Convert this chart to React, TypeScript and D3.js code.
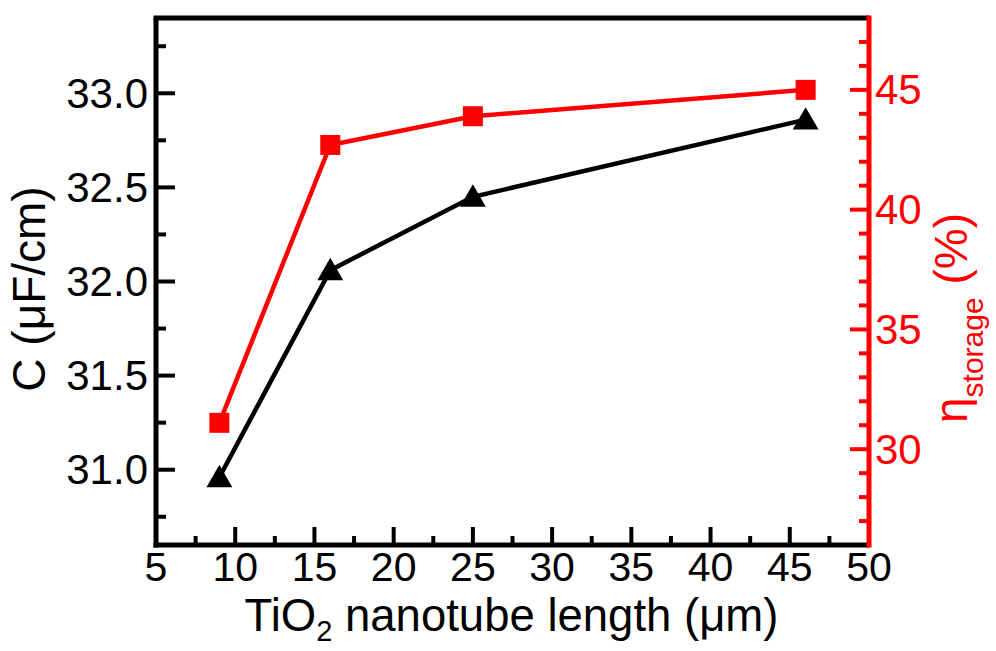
import React from "react";
import * as d3 from "d3";

const lengths = [9, 16, 25, 46];
const capacitance = [30.96, 32.06, 32.45, 32.86];
const efficiency = [31.1, 42.7, 43.9, 45.0];
const xTicksMajor = [5, 10, 15, 20, 25, 30, 35, 40, 45, 50];
const yLeftMajor = [31.0, 31.5, 32.0, 32.5, 33.0];
const yRightMajor = [30, 35, 40, 45];

const W = 996, H = 651;
const L = 156, R = 869, T = 18, B = 545;
const FONT = "'Liberation Sans', Arial, sans-serif";
const RED = "#ff0000";

export default function App() {
  const x = d3.scaleLinear().domain([5, 50]).range([L, R]);
  const yL = d3.scaleLinear().domain([30.6, 33.4]).range([B, T]);
  const yR = d3.scaleLinear().domain([26, 48]).range([B, T]);

  const xMinor = d3.range(7.5, 50, 5);
  const yLMinor = d3.range(30.75, 33.4, 0.5);
  const yRMinor = d3.range(27, 48, 1).filter((v) => v % 5 !== 0);

  const lineC = d3.line<number>().x((_, i) => x(lengths[i])).y((d) => yL(d));
  const lineE = d3.line<number>().x((_, i) => x(lengths[i])).y((d) => yR(d));
  const tri = d3.symbol().type(d3.symbolTriangle).size(290)();

  return (
    <div style={{ position: "absolute", left: 0, top: 0 }}>
      <svg width={W} height={H} style={{ display: "block", background: "#fff" }}>
        <rect width={W} height={H} fill="#fff" />
        {/* data lines */}
        <path d={lineE(efficiency) || ""} fill="none" stroke={RED} strokeWidth={4.5} />
        <path d={lineC(capacitance) || ""} fill="none" stroke="#000" strokeWidth={4.5} />
        {efficiency.map((v, i) => (
          <rect key={"s" + i} x={x(lengths[i]) - 10} y={yR(v) - 10} width={20} height={20} fill={RED} />
        ))}
        {capacitance.map((v, i) => (
          <path key={"t" + i} d={tri || ""} transform={`translate(${x(lengths[i])},${yL(v) + 2.5})`} fill="#000" />
        ))}

        {/* x ticks */}
        {xTicksMajor.map((t) => (
          <g key={"xt" + t}>
            <line x1={x(t)} x2={x(t)} y1={B} y2={B - 18} stroke="#000" strokeWidth={4} />
            <text x={x(t)} y={581} textAnchor="middle" fontFamily={FONT} fontSize={41} fill="#000">{t}</text>
          </g>
        ))}
        {xMinor.map((t) => (
          <line key={"xm" + t} x1={x(t)} x2={x(t)} y1={B} y2={B - 9} stroke="#000" strokeWidth={4} />
        ))}
        {/* left ticks */}
        {yLeftMajor.map((t) => (
          <g key={"yl" + t}>
            <line x1={L} x2={L + 19} y1={yL(t)} y2={yL(t)} stroke="#000" strokeWidth={4} />
            <text x={148} y={yL(t) + 14.5} textAnchor="end" fontFamily={FONT} fontSize={42} fill="#000">{t.toFixed(1)}</text>
          </g>
        ))}
        {yLMinor.map((t) => (
          <line key={"ylm" + t} x1={L} x2={L + 10} y1={yL(t)} y2={yL(t)} stroke="#000" strokeWidth={4} />
        ))}
        {/* right ticks */}
        {yRightMajor.map((t) => (
          <g key={"yr" + t}>
            <line x1={R} x2={R - 19} y1={yR(t)} y2={yR(t)} stroke={RED} strokeWidth={4} />
            <text x={875} y={yR(t) + 14.5} textAnchor="start" fontFamily={FONT} fontSize={42} fill={RED}>{t}</text>
          </g>
        ))}
        {yRMinor.map((t) => (
          <line key={"yrm" + t} x1={R} x2={R - 10} y1={yR(t)} y2={yR(t)} stroke={RED} strokeWidth={4} />
        ))}

        {/* frame */}
        <line x1={L - 2.5} x2={R} y1={T} y2={T} stroke="#000" strokeWidth={5} />
        <line x1={L - 2.5} x2={R} y1={B} y2={B} stroke="#000" strokeWidth={5} />
        <line x1={L} x2={L} y1={T} y2={B + 2.5} stroke="#000" strokeWidth={5} />
        <line x1={R} x2={R} y1={T - 2.5} y2={B + 2.5} stroke={RED} strokeWidth={5} />

        {/* axis titles */}
        <text x={(L + R) / 2 - 1} y={631} textAnchor="middle" fontFamily={FONT} fontSize={45.5} fill="#000">
          TiO<tspan dy={10} fontSize={29}>2</tspan><tspan dy={-10}> nanotube length (μm)</tspan>
        </text>
        <text transform={`translate(45,289) rotate(-90)`} textAnchor="middle" fontFamily={FONT} fontSize={46} fill="#000">
          C (μF/cm)
        </text>
        <text transform={`translate(967,318) rotate(-90)`} textAnchor="middle" fontFamily={FONT} fontSize={46} fill={RED}>
          η<tspan dy={16} fontSize={30}>storage</tspan><tspan dy={-16}> (%)</tspan>
        </text>
      </svg>
    </div>
  );
}
